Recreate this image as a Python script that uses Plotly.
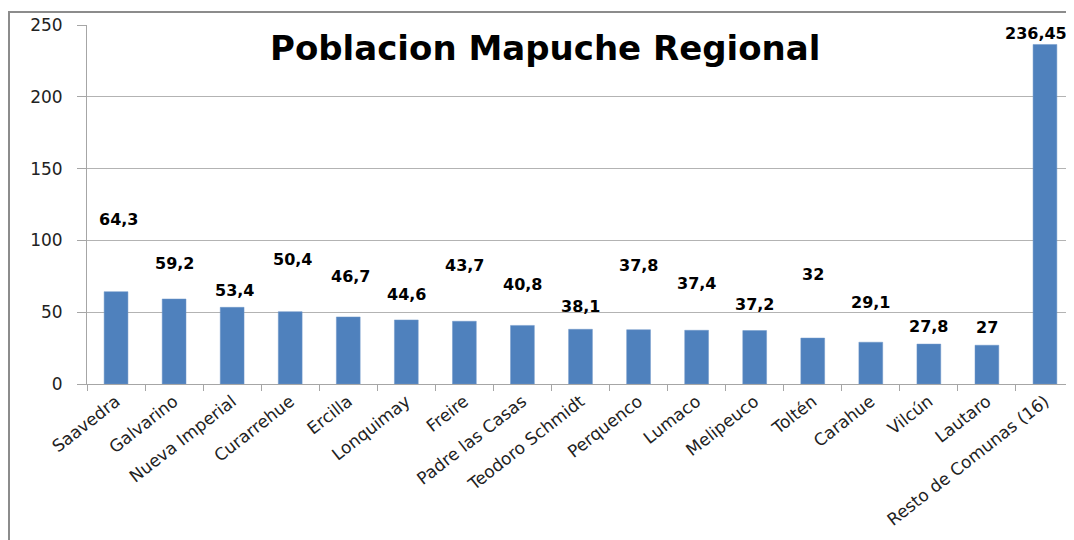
import plotly.graph_objects as go

categories = ["Saavedra", "Galvarino", "Nueva Imperial", "Curarrehue", "Ercilla",
              "Lonquimay", "Freire", "Padre las Casas", "Teodoro Schmidt", "Perquenco",
              "Lumaco", "Melipeuco", "Toltén", "Carahue", "Vilcún", "Lautaro",
              "Resto de Comunas (16)"]
values = [64.3, 59.2, 53.4, 50.4, 46.7, 44.6, 43.7, 40.8, 38.1, 37.8,
          37.4, 37.2, 32, 29.1, 27.8, 27, 236.45]
y_ticks = [0, 50, 100, 150, 200, 250]

# pixel lift / shift of each data label relative to its bar (styling, as in the reference)
label_lift = [72, 35, 17, 52, 40, 25, 56, 41, 23, 64, 47, 26, 64, 40, 18, 18, 11]
label_xshift = [2, 0, 2, 2, 2, 0, 0, 0, 0, 0, 0, 0, 0, 0, 0, 0, -9]

labels = [f"{v:g}".replace(".", ",") for v in values]

fig = go.Figure()
fig.add_trace(go.Bar(
    x=categories, y=values,
    marker=dict(color="#4F81BD", line=dict(color="#6F97C9", width=0.5)),
    hoverinfo="x+y",
))

for c, v, t, lift, xs in zip(categories, values, labels, label_lift, label_xshift):
    fig.add_annotation(x=c, y=v, text=f"<b>{t}</b>", showarrow=False,
                       yanchor="middle", yshift=lift, xshift=xs,
                       font=dict(family="DejaVu Sans", size=16, color="#000000"))

fig.add_annotation(xref="paper", yref="paper", x=(545 - 87) / 987, y=(384 - 48) / 359,
                   text="<b>Poblacion Mapuche Regional</b>", showarrow=False,
                   xanchor="center", yanchor="middle",
                   font=dict(family="DejaVu Sans", size=34, color="#000000"))

# outer chart frame
fig.add_shape(type="rect", xref="paper", yref="paper",
              x0=(9 - 87) / 987, x1=1.02, y0=-0.5, y1=(384 - 12) / 359,
              line=dict(color="#8C8C8C", width=2), fillcolor="rgba(0,0,0,0)", layer="below")

# the page body adds an 8px offset, so the figure is 8px smaller on each side
fig.update_layout(
    width=1066, height=532,
    margin=dict(l=79, r=0, t=17, b=156, autoexpand=False),
    paper_bgcolor="white", plot_bgcolor="white",
    bargap=0.59,
    showlegend=False,
    font=dict(family="DejaVu Sans", color="#222222"),
)
fig.update_xaxes(
    type="category", tickson="boundaries", ticks="outside", ticklen=6,
    tickcolor="#A6A6A6", showline=True, linecolor="#A6A6A6", linewidth=1,
    tickangle=-38, tickfont=dict(family="DejaVu Sans", size=17, color="#222222"),
    showgrid=False, automargin=False,
)
fig.update_yaxes(
    range=[0, 250], tickvals=y_ticks, ticks="outside", ticklen=9,
    tickcolor="#A6A6A6", showline=True, linecolor="#A6A6A6", linewidth=1,
    showgrid=True, gridcolor="#B3B3B3", gridwidth=1, zeroline=False,
    ticklabelstandoff=11, automargin=False,
    tickfont=dict(family="DejaVu Sans", size=17, color="#222222"),
)

fig.write_html("out.html")
